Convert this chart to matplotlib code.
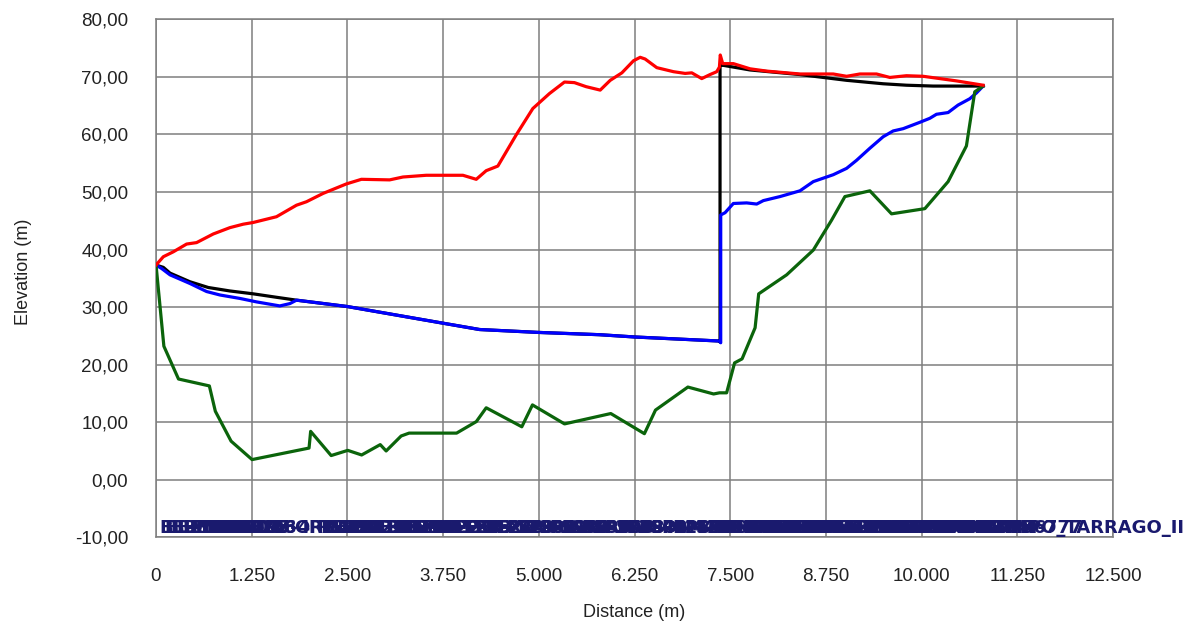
import matplotlib
matplotlib.use("Agg")
import matplotlib.pyplot as plt
from matplotlib.ticker import FuncFormatter, MultipleLocator

# Longitudinal profile: ground (green), hydraulic grade line (blue),
# static line (black) and pressure envelope (red)
ground_x = [0, 103, 294, 697, 775, 981, 1255, 1999, 2020, 2288, 2505, 2686,
            2929, 3006, 3202, 3306, 3926, 4184, 4313, 4778, 4917, 5336, 5940,
            6379, 6524, 6947, 7283, 7360, 7453, 7557, 7655, 7825, 7872, 8237,
            8585, 8824, 8998, 9324, 9607, 10042, 10346, 10585, 10694, 10803]
ground_z = [37.4, 23.2, 17.5, 16.3, 11.9, 6.7, 3.5, 5.5, 8.4, 4.2, 5.1, 4.3,
            6.1, 5.0, 7.6, 8.1, 8.1, 10.1, 12.5, 9.2, 13.0, 9.7, 11.5,
            8.0, 12.1, 16.1, 14.9, 15.1, 15.1, 20.3, 21.0, 26.4, 32.3, 35.6,
            39.9, 45.1, 49.2, 50.2, 46.2, 47.1, 51.8, 58.0, 67.4, 68.4]

hgl_x = [0, 74, 183, 443, 661, 835, 1096, 1313, 1617, 1748, 1835, 2496, 3748,
         4226, 4987, 5791, 6255, 7360, 7376, 7376, 7433, 7541, 7715, 7846,
         7933, 8150, 8411, 8585, 8846, 9020, 9150, 9324, 9498, 9628, 9759,
         9976, 10107, 10194, 10346, 10476, 10629, 10716, 10803]
hgl_z = [37.3, 36.7, 35.6, 34.1, 32.7, 32.1, 31.5, 30.9, 30.2, 30.6, 31.2,
         30.1, 27.2, 26.1, 25.6, 25.2, 24.8, 24.1, 23.8, 46.0, 46.4, 48.0,
         48.1, 47.9, 48.5, 49.2, 50.2, 51.8, 53.0, 54.1, 55.5, 57.6, 59.6,
         60.6, 61.0, 62.1, 62.8, 63.5, 63.8, 65.1, 66.2, 67.2, 68.4]

static_x = [0, 96, 183, 443, 683, 965, 1270, 1574, 1835, 2496, 3748, 4226,
            4987, 5791, 6255, 7360, 7367, 7367, 7411, 7759, 8411, 9020, 9498,
            9802, 10150, 10803]
static_z = [37.3, 36.9, 35.9, 34.4, 33.4, 32.8, 32.3, 31.7, 31.2, 30.1, 27.2,
            26.1, 25.6, 25.2, 24.8, 24.1, 23.9, 72.0, 72.0, 71.2, 70.4, 69.4,
            68.8, 68.55, 68.4, 68.4]

env_x = [0, 96, 226, 400, 530, 748, 965, 1139, 1270, 1574, 1835, 1965, 2183,
         2487, 2683, 3052, 3226, 3530, 4009, 4183, 4313, 4465, 4704, 4922,
         5139, 5335, 5465, 5617, 5802, 5933, 6085, 6237, 6324, 6389, 6541,
         6759, 6911, 6998, 7128, 7237, 7324, 7359, 7370, 7402, 7541, 7759,
         7976, 8411, 8846, 9020, 9194, 9411, 9585, 9802, 10020, 10237, 10455,
         10803]
env_z = [37.3, 38.75, 39.6, 40.95, 41.2, 42.7, 43.8, 44.4, 44.7, 45.7, 47.7,
         48.3, 49.75, 51.4, 52.2, 52.1, 52.6, 52.9, 52.9, 52.2, 53.7, 54.5,
         59.9, 64.5, 67.1, 69.1, 69.0, 68.3, 67.7, 69.4, 70.7, 72.8, 73.4,
         73.1, 71.6, 70.9, 70.6, 70.7, 69.7, 70.4, 70.9, 71.7, 73.8, 72.3,
         72.3, 71.4, 71.0, 70.5, 70.5, 70.1, 70.5, 70.5, 69.9, 70.2, 70.1,
         69.7, 69.3, 68.55]

# Node names along the bottom of the profile
node_x = [40, 110, 190, 270, 350, 430, 520, 610, 700, 790, 880, 980, 1080,
          1420, 1800, 1990, 2090, 2200, 2310, 2420, 2530, 2640, 2750, 2870,
          2990, 3110, 3230, 3350, 3480, 3610, 3740, 3880, 4020, 4160, 4300,
          4440, 4580, 4720, 4860, 5000, 5140, 5280, 5420, 5560, 5700, 5850,
          6000, 6150, 6300, 6450, 6600, 6750, 6900, 7050, 7200, 7330, 7440,
          7560, 7680, 7800, 7920, 8040, 8160, 8280, 8400, 8520, 8640, 8760,
          8880, 9000, 9120, 9240, 9360, 9480, 9600, 9720, 9840, 9960, 10080,
          10200, 10320, 10440, 10560, 10680, 10803]
node_names = ["BL-ENL", "BL-MAN", "BL-MDB", "BELES-1", "BELES-2", "MDB-01",
              "MDB-02", "MDB-03", "DBE-04", "DBE-05", "DBE-06", "BE-07",
              "BE-08", "PS-4", "ORCADO", "PB-09", "RE-10", "PB-11", "DB-12",
              "EB-13", "PB-14", "BB-15", "PB-16", "EB-17", "PB-18", "BB-19",
              "PB-20", "HB-21", "PB-22", "BR-23", "PE-24", "PE-25", "EXP-26",
              "BX-27", "PB-28", "EX-29", "PS-30", "RA-31", "PB-32", "SAP-33",
              "PB-34", "SAP-35", "SAP-36", "PB-37", "SAP-38", "PB-39",
              "SAP-40", "DB-41", "PB-42", "SOM-43", "PB-44", "BM-45",
              "PB-46", "SAP-47", "BM-48", "MB-49", "MBM-50", "MBM-51",
              "BMB-52", "MBM-53", "BMM-54", "MBB-55", "BMB-56", "MBM-57",
              "BMB-58", "MNA-59", "NAS-60", "MA-NA", "NAB-62", "MUB-63",
              "BMN-64", "NAM-65", "MNB-66", "BNM-67", "MNB-68", "BMN-69",
              "MNB-70", "BMM-71", "MBN-72", "BMN-73", "MBB-74", "BMN-75",
              "MBM-76", "MBNM-777", "CAMPO_TARRAGO_II"]

x_ticks = [0, 1250, 2500, 3750, 5000, 6250, 7500, 8750, 10000, 11250, 12500]

plt.rcParams['font.family'] = ['Liberation Sans', 'DejaVu Sans']

fig = plt.figure(figsize=(11.99, 6.23), dpi=100)
ax = fig.add_axes([0.1301, 0.1376, 0.7982, 0.8314])

ax.plot(static_x, static_z, color='#000000', lw=2.3, zorder=3)
ax.plot(hgl_x, hgl_z, color='#0000ff', lw=2.3, zorder=4)
ax.plot(ground_x, ground_z, color='#0b640b', lw=2.3, zorder=5)
ax.plot(env_x, env_z, color='#ff0000', lw=2.3, zorder=6)

for nx, name in zip(node_x, node_names):
    ax.text(nx, -8.4, name, color='#1a1a6e', fontsize=13, fontweight='bold',
            family='DejaVu Sans', ha='left', va='center', clip_on=False,
            zorder=7)

ax.set_xlim(0, 12500)
ax.set_ylim(-10, 80)
ax.set_xticks(x_ticks)
ax.yaxis.set_major_locator(MultipleLocator(10))
ax.xaxis.set_major_formatter(FuncFormatter(lambda v, p: f"{int(v):,}".replace(",", ".")))
ax.yaxis.set_major_formatter(FuncFormatter(lambda v, p: f"{v:.2f}".replace(".", ",")))
ax.tick_params(axis='both', length=0, labelsize=13.5, colors='#222222')
ax.tick_params(axis='x', pad=22)
ax.tick_params(axis='y', pad=20)

ax.grid(True, color='#7f7f7f', lw=1.1)
for s in ax.spines.values():
    s.set_color('#7f7f7f')
    s.set_linewidth(1.1)

ax.set_xlabel('Distance (m)', fontsize=13, color='#222222')
ax.set_ylabel('Elevation (m)', fontsize=13, color='#222222')
ax.xaxis.set_label_coords(0.5, -0.128)
ax.yaxis.set_label_coords(-0.1296, 0.512)

fig.savefig('out.png', dpi=100)
